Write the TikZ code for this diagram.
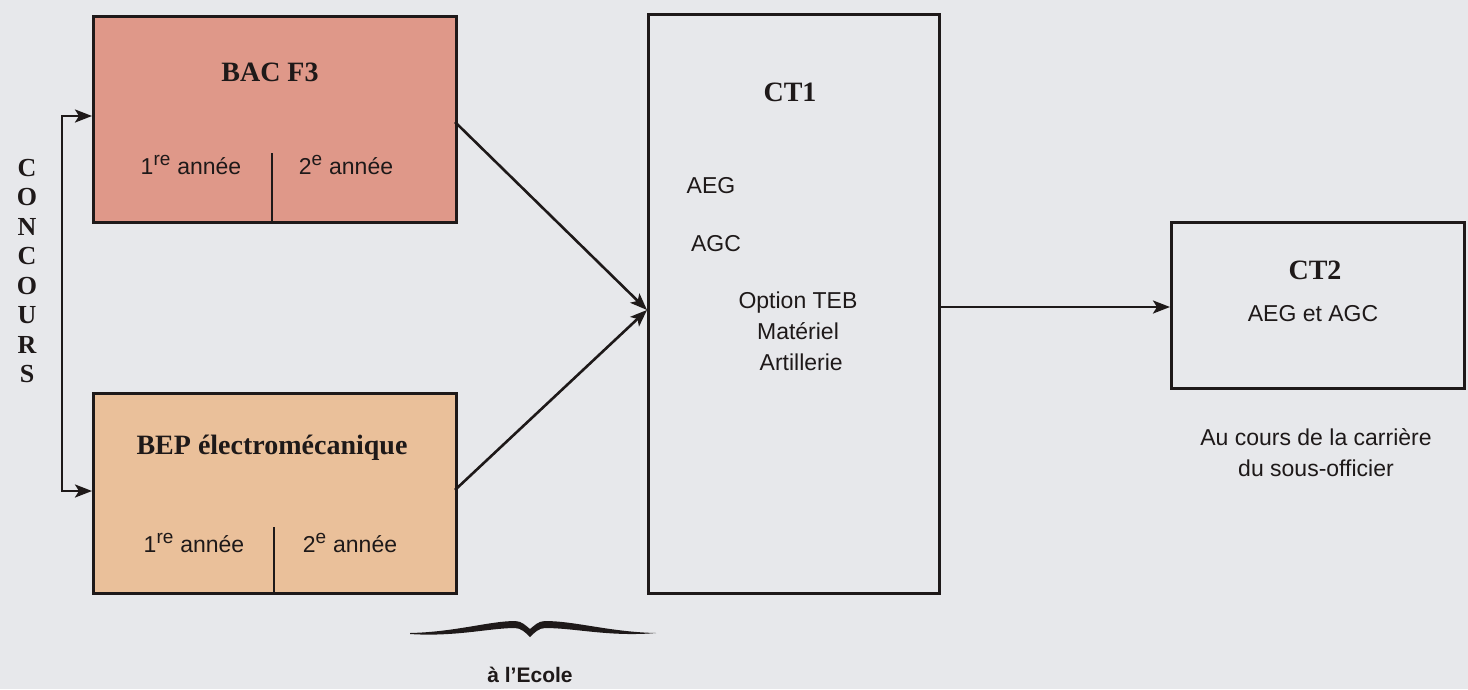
\documentclass[tikz,border=0pt]{standalone}
\usepackage{fontspec}
\setmainfont{Liberation Serif}
\setsansfont{Liberation Sans}
\usetikzlibrary{arrows.meta}
\definecolor{bgc}{RGB}{231,232,235}
\definecolor{bacc}{RGB}{223,152,137}
\definecolor{bepc}{RGB}{234,192,154}
\definecolor{ink}{RGB}{30,25,25}
\tikzset{
  x=1pt,y=-1pt,
  box/.style={draw=ink,line width=3pt,rectangle,anchor=north west,inner sep=0pt},
  ttl/.style={font=\fontsize{28}{30}\selectfont\rmfamily\bfseries,text=ink,inner sep=0pt},
  lbl/.style={font=\fontsize{23}{31}\selectfont\sffamily,text=ink,inner sep=0pt,align=center},
  conn/.style={draw=ink,line width=2.6pt},
  arr/.style={conn,-{Stealth[length=17pt,width=13pt,inset=4pt]}},
  divider/.style={draw=ink,line width=2.8pt},
}
\newcommand{\anneeA}{1\textsuperscript{\fontsize{19}{20}\selectfont re} année}
\newcommand{\anneeB}{2\textsuperscript{\fontsize{19}{20}\selectfont e} année}
\begin{document}
\begin{tikzpicture}
\fill[bgc] (0,0) rectangle (1468,689);
\useasboundingbox (0,0) rectangle (1468,689);
% boxes
\node[box,fill=bacc,minimum width=363pt,minimum height=206pt] (bac) at (92,15) {};
\node[box,fill=bepc,minimum width=363pt,minimum height=200pt] (bep) at (92,392) {};
\node[box,minimum width=291pt,minimum height=579pt] (ct1) at (647,13) {};
\node[box,minimum width=293pt,minimum height=166pt] (ct2) at (1170,221) {};
% dividers
\coordinate (bacdt) at (272,153);
\coordinate (bacdb) at (272,221);
\draw[divider] (bacdt) -- (bacdb);
\coordinate (bepdt) at (274,527);
\coordinate (bepdb) at (274,592);
\draw[divider] (bepdt) -- (bepdb);
% texts in boxes
\node[ttl] (bact) at (270,72) {BAC F3};
\node[lbl] (baca) at (191,165) {\anneeA};
\node[lbl] (bacb) at (346,165) {\anneeB};
\node[ttl] (bept) at (272,448) {BEP électromécanique};
\node[lbl] (bepa) at (194,543) {\anneeA};
\node[lbl] (bepb) at (350,543) {\anneeB};
\node[ttl] (ct1t) at (790,92) {CT1};
\node[lbl] (aeg) at (711,186) {AEG};
\node[lbl] (agc) at (716,244) {AGC};
\node[lbl] (opt) at (798,331) {Option TEB\\Matériel\\\ Artillerie};
\node[ttl] (ct2t) at (1315,270) {CT2};
\node[lbl] (aegagc) at (1313,314) {AEG et AGC};
\node[lbl] (carr) at (1316,453) {Au cours de la carrière\\du sous-officier};
% concours
\node[ttl,font=\fontsize{26}{30}\selectfont\rmfamily\bfseries,align=center] (conc) at (27,271)
  {C\\[-0.5pt]O\\[-0.5pt]N\\[-0.5pt]C\\[-0.5pt]O\\[-0.5pt]U\\[-0.5pt]R\\[-0.5pt]S};
\coordinate (kt) at (62,116);
\coordinate (kb) at (62,491);
\coordinate (ct1in) at (647,310);
\draw[arr] (kt) -- (bac.west |- kt);
\draw[arr] (kb) -- (bep.west |- kb);
\draw[conn,line cap=rect] (kt) -- (kb);
% arrows to CT1 and CT2
\coordinate (bacout) at (455,122);
\coordinate (bepout) at (455,490);
\draw[arr] (bacout) -- (ct1in);
\draw[arr] (bepout) -- (ct1in);
\coordinate (ct1out) at (938,307);
\draw[arr] (ct1out) -- (ct2.west |- ct1out);
% brace
\fill[ink] (410,633) .. controls (455,632) and (490,621) .. (515,621)
  .. controls (522,621) and (526,626) .. (530,629)
  .. controls (534,626) and (538,621) .. (545,621)
  .. controls (575,621) and (610,632) .. (656,633)
  .. controls (610,637) and (575,628) .. (545,628)
  .. controls (539,628) and (534,633) .. (530,637)
  .. controls (526,633) and (521,628) .. (515,628)
  .. controls (490,628) and (455,637) .. (410,634) -- cycle;
\node[lbl,font=\fontsize{21}{26}\selectfont\sffamily\bfseries] (ecole) at (530,675) {à l'Ecole};
\end{tikzpicture}
\end{document}
